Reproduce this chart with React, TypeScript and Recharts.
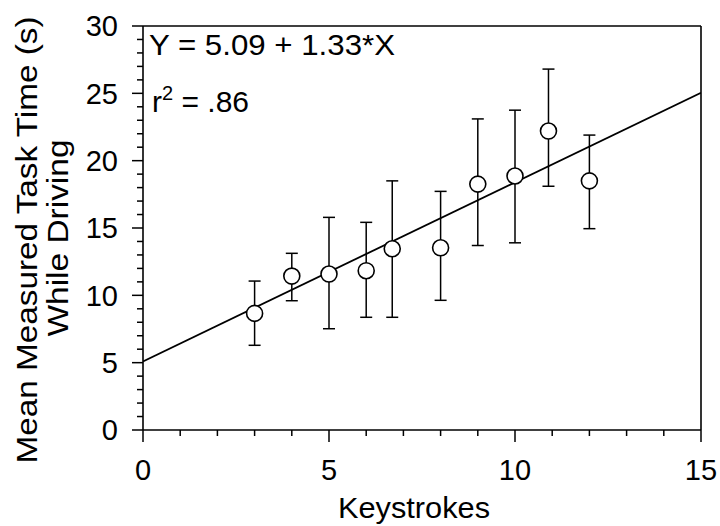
import React from 'react';
import { ComposedChart, Line, Scatter, ErrorBar, XAxis, YAxis, ReferenceLine } from 'recharts';

// keystrokes per task and measured mean / range of task times (s)
const keystrokes = [3, 4, 5, 6, 6.7, 8, 9, 10, 10.9, 12];
const meanTime = [8.66, 11.43, 11.58, 11.83, 13.46, 13.53, 18.26, 18.86, 22.2, 18.5];
const upperTime = [11.06, 13.12, 15.79, 15.42, 18.5, 17.72, 23.1, 23.75, 26.8, 21.9];
const lowerTime = [6.29, 9.6, 7.52, 8.37, 8.37, 9.63, 13.7, 13.9, 18.1, 14.95];

// regression line Y = 5.09 + 1.33*X, endpoints
const fitX = [0, 15];
const fitY = [5.09, 25.04];

// every tick drawn; labelled ones are the majors
const xTicks = [0, 1, 2, 3, 4, 5, 6, 7, 8, 9, 10, 11, 12, 13, 14, 15];
const xMajor = [0, 5, 10, 15];
const yTicks = [
  0, 1, 2, 3, 4, 5, 6, 7, 8, 9, 10, 11, 12, 13, 14, 15,
  16, 17, 18, 19, 20, 21, 22, 23, 24, 25, 26, 27, 28, 29, 30,
];
const yMajor = [0, 5, 10, 15, 20, 25, 30];

const FONT = '"Liberation Sans", Arial, Helvetica, sans-serif';

const points = keystrokes.map((x, i) => ({
  x,
  y: meanTime[i],
  err: [meanTime[i] - lowerTime[i], upperTime[i] - meanTime[i]],
}));
const fitData = fitX.map((x, i) => ({ x, y: fitY[i] }));

const OpenCircle = (props: any) => {
  const { cx, cy } = props;
  if (cx == null || cy == null) return null;
  return <circle cx={cx} cy={cy} r={8} fill="#fff" stroke="#000" strokeWidth={1.6} />;
};

const XTick = ({ x, y, payload }: any) => {
  const major = xMajor.includes(payload.value);
  return (
    <g>
      <line x1={x} y1={y} x2={x} y2={y + (major ? 12 : 6)} stroke="#000" strokeWidth={1.5} />
      {major && (
        <text x={x} y={y + 29} dy="0.71em" textAnchor="middle" fontSize={29} fontFamily={FONT} fill="#000">
          {payload.value}
        </text>
      )}
    </g>
  );
};

const YTick = ({ x, y, payload }: any) => {
  const major = yMajor.includes(payload.value);
  return (
    <g>
      <line x1={x} y1={y} x2={x - (major ? 11 : 6)} y2={y} stroke="#000" strokeWidth={1.5} />
      {major && (
        <text x={x - 25} y={y} dy="0.355em" textAnchor="end" fontSize={29} fontFamily={FONT} fill="#000">
          {payload.value}
        </text>
      )}
    </g>
  );
};

export default function App() {
  return (
    <div style={{ position: 'absolute', left: 0, top: 0, width: 720, height: 526, background: '#fff' }}>
      <ComposedChart
        width={720}
        height={526}
        margin={{ top: 26, right: 19, bottom: 36, left: 83 }}
      >
        <XAxis
          type="number"
          dataKey="x"
          domain={[0, 15]}
          allowDataOverflow
          ticks={xTicks}
          interval={0}
          tick={<XTick />}
          tickSize={0}
          tickMargin={0}
          tickLine={false}
          axisLine={{ stroke: '#000', strokeWidth: 1.6 }}
          height={60}
        />
        <YAxis
          type="number"
          dataKey="y"
          domain={[0, 30]}
          allowDataOverflow
          ticks={yTicks}
          interval={0}
          tick={<YTick />}
          tickSize={0}
          tickMargin={0}
          tickLine={false}
          axisLine={{ stroke: '#000', strokeWidth: 1.6 }}
          width={60}
        />
        <ReferenceLine y={30} stroke="#000" strokeWidth={1.6} />
        <ReferenceLine x={15} stroke="#000" strokeWidth={1.6} />
        <Line
          data={fitData}
          dataKey="y"
          stroke="#000"
          strokeWidth={1.8}
          dot={false}
          activeDot={false}
          isAnimationActive={false}
        />
        <Scatter data={points} dataKey="y" shape={OpenCircle} isAnimationActive={false}>
          <ErrorBar dataKey="err" direction="y" width={6} stroke="#000" strokeWidth={1.5} />
        </Scatter>
      </ComposedChart>

      <svg
        width={720}
        height={526}
        style={{ position: 'absolute', left: 0, top: 0, pointerEvents: 'none' }}
        fontFamily={FONT}
        fill="#000"
      >
        <text x={149} y={55} fontSize={30} textLength={246} lengthAdjust="spacingAndGlyphs">
          Y = 5.09 + 1.33*X
        </text>
        <text x={152} y={112} fontSize={30}>
          r<tspan dy={-12} fontSize={20}>2</tspan>
          <tspan dy={12}> = .86</tspan>
        </text>
        <text
          transform="translate(37,240) rotate(-90)"
          textAnchor="middle"
          fontSize={30}
          textLength={447}
          lengthAdjust="spacingAndGlyphs"
        >
          Mean Measured Task Time (s)
        </text>
        <text
          transform="translate(68,238) rotate(-90)"
          textAnchor="middle"
          fontSize={30}
          textLength={197}
          lengthAdjust="spacingAndGlyphs"
        >
          While Driving
        </text>
        <text x={414} y={518} textAnchor="middle" fontSize={30} textLength={152} lengthAdjust="spacingAndGlyphs">
          Keystrokes
        </text>
      </svg>
    </div>
  );
}
